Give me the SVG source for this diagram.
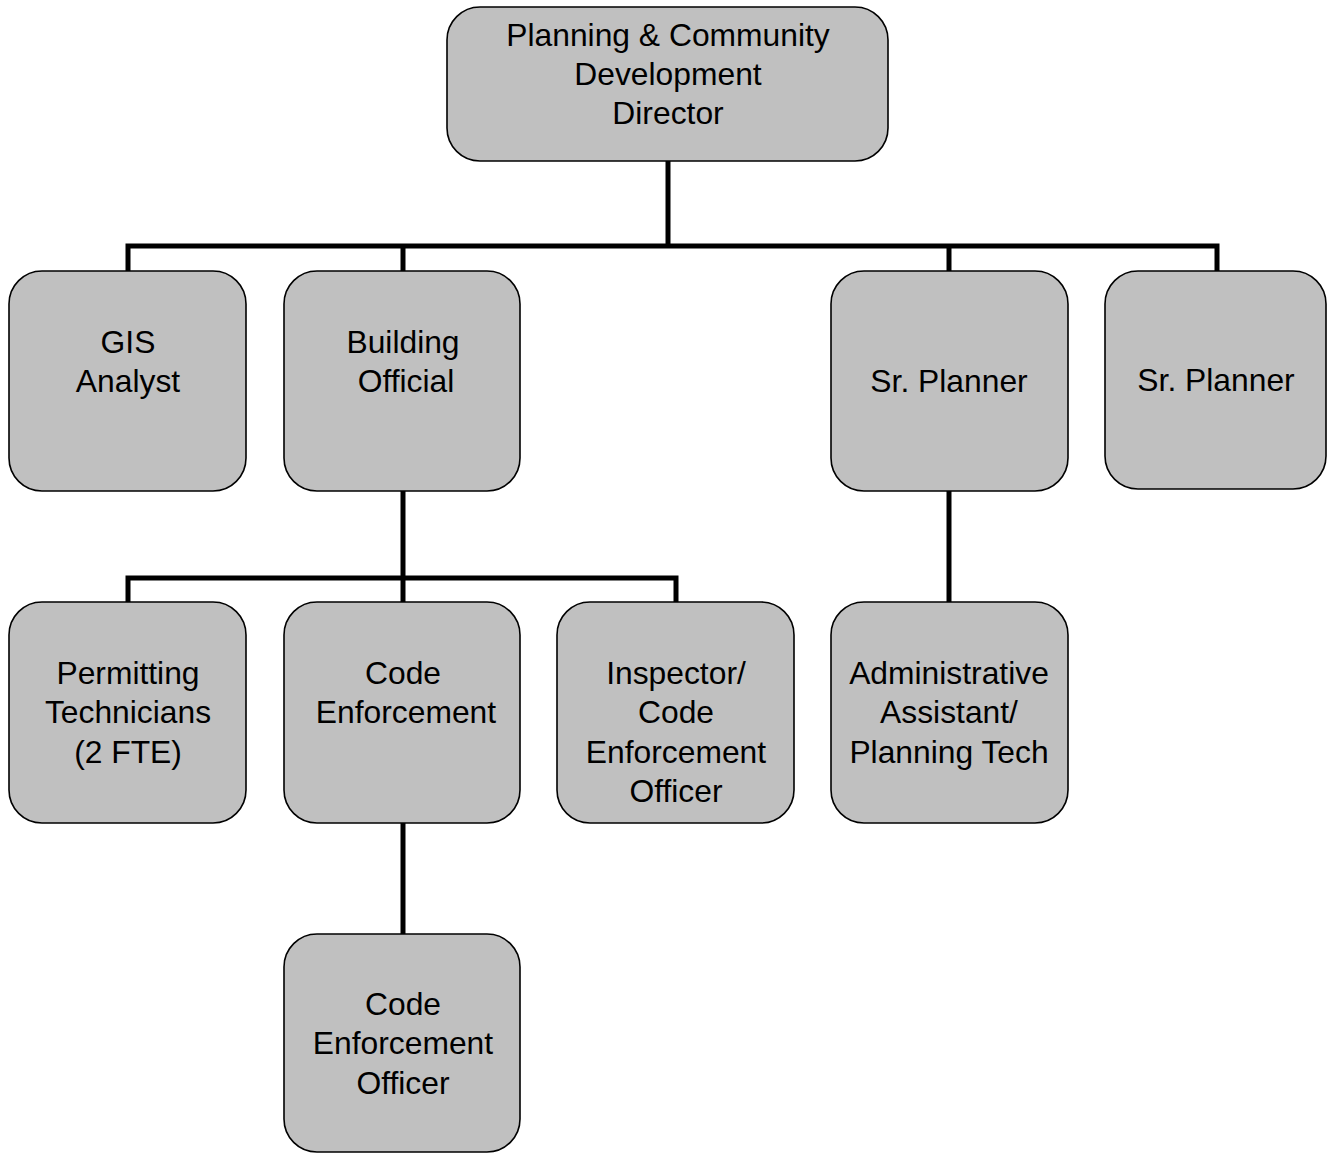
<svg xmlns="http://www.w3.org/2000/svg" width="1331" height="1153" viewBox="0 0 1331 1153">
  <style>
    .box { fill: #c0c0c0; stroke: #000; stroke-width: 1.6; }
    .lbl { font-family: "Liberation Sans", Arial, sans-serif; font-size: 31.8px; fill: #000; text-anchor: middle; }
    .wire { fill: none; stroke: #000; stroke-width: 5; stroke-linejoin: miter; stroke-linecap: butt; }
  </style>
  <rect width="1331" height="1153" fill="#fff"/>

  <!-- reporting lines -->
  <g id="connectors">
    <path class="wire" d="M668 161 V246"/>
    <path class="wire" d="M128 271 V246 H1217 V271"/>
    <path class="wire" d="M403 246 V271"/>
    <path class="wire" d="M949 246 V271"/>
    <path class="wire" d="M403 491 V578"/>
    <path class="wire" d="M128 603 V578 H676 V603"/>
    <path class="wire" d="M403 578 V603"/>
    <path class="wire" d="M949 491 V603"/>
    <path class="wire" d="M403 823 V935"/>
  </g>

  <g id="director">
    <rect class="box" x="447" y="7" width="441" height="154" rx="33"/>
    <text class="lbl"><tspan x="668" y="46">Planning &amp; Community</tspan><tspan x="668" y="85">Development</tspan><tspan x="668" y="124">Director</tspan></text>
  </g>

  <g id="gis-analyst">
    <rect class="box" x="9" y="271" width="237" height="220" rx="33"/>
    <text class="lbl"><tspan x="128" y="353">GIS</tspan><tspan x="128" y="392">Analyst</tspan></text>
  </g>

  <g id="building-official">
    <rect class="box" x="284" y="271" width="236" height="220" rx="33"/>
    <text class="lbl"><tspan x="403" y="353">Building</tspan><tspan x="406" y="392">Official</tspan></text>
  </g>

  <g id="sr-planner-1">
    <rect class="box" x="831" y="271" width="237" height="220" rx="33"/>
    <text class="lbl"><tspan x="949" y="392">Sr. Planner</tspan></text>
  </g>

  <g id="sr-planner-2">
    <rect class="box" x="1105" y="271" width="221" height="218" rx="33"/>
    <text class="lbl"><tspan x="1216" y="391">Sr. Planner</tspan></text>
  </g>

  <g id="permitting-technicians">
    <rect class="box" x="9" y="602" width="237" height="221" rx="33"/>
    <text class="lbl"><tspan x="128" y="684">Permitting</tspan><tspan x="128" y="723">Technicians</tspan><tspan x="128" y="763">(2 FTE)</tspan></text>
  </g>

  <g id="code-enforcement">
    <rect class="box" x="284" y="602" width="236" height="221" rx="33"/>
    <text class="lbl"><tspan x="403" y="684">Code</tspan><tspan x="406" y="723">Enforcement</tspan></text>
  </g>

  <g id="inspector">
    <rect class="box" x="557" y="602" width="237" height="221" rx="33"/>
    <text class="lbl"><tspan x="676" y="684">Inspector/</tspan><tspan x="676" y="723">Code</tspan><tspan x="676" y="763">Enforcement</tspan><tspan x="676" y="802">Officer</tspan></text>
  </g>

  <g id="admin-assistant">
    <rect class="box" x="831" y="602" width="237" height="221" rx="33"/>
    <text class="lbl"><tspan x="949" y="684">Administrative</tspan><tspan x="949" y="723">Assistant/</tspan><tspan x="949" y="763">Planning Tech</tspan></text>
  </g>

  <g id="code-enforcement-officer">
    <rect class="box" x="284" y="934" width="236" height="218" rx="33"/>
    <text class="lbl"><tspan x="403" y="1015">Code</tspan><tspan x="403" y="1054">Enforcement</tspan><tspan x="403" y="1094">Officer</tspan></text>
  </g>
</svg>
